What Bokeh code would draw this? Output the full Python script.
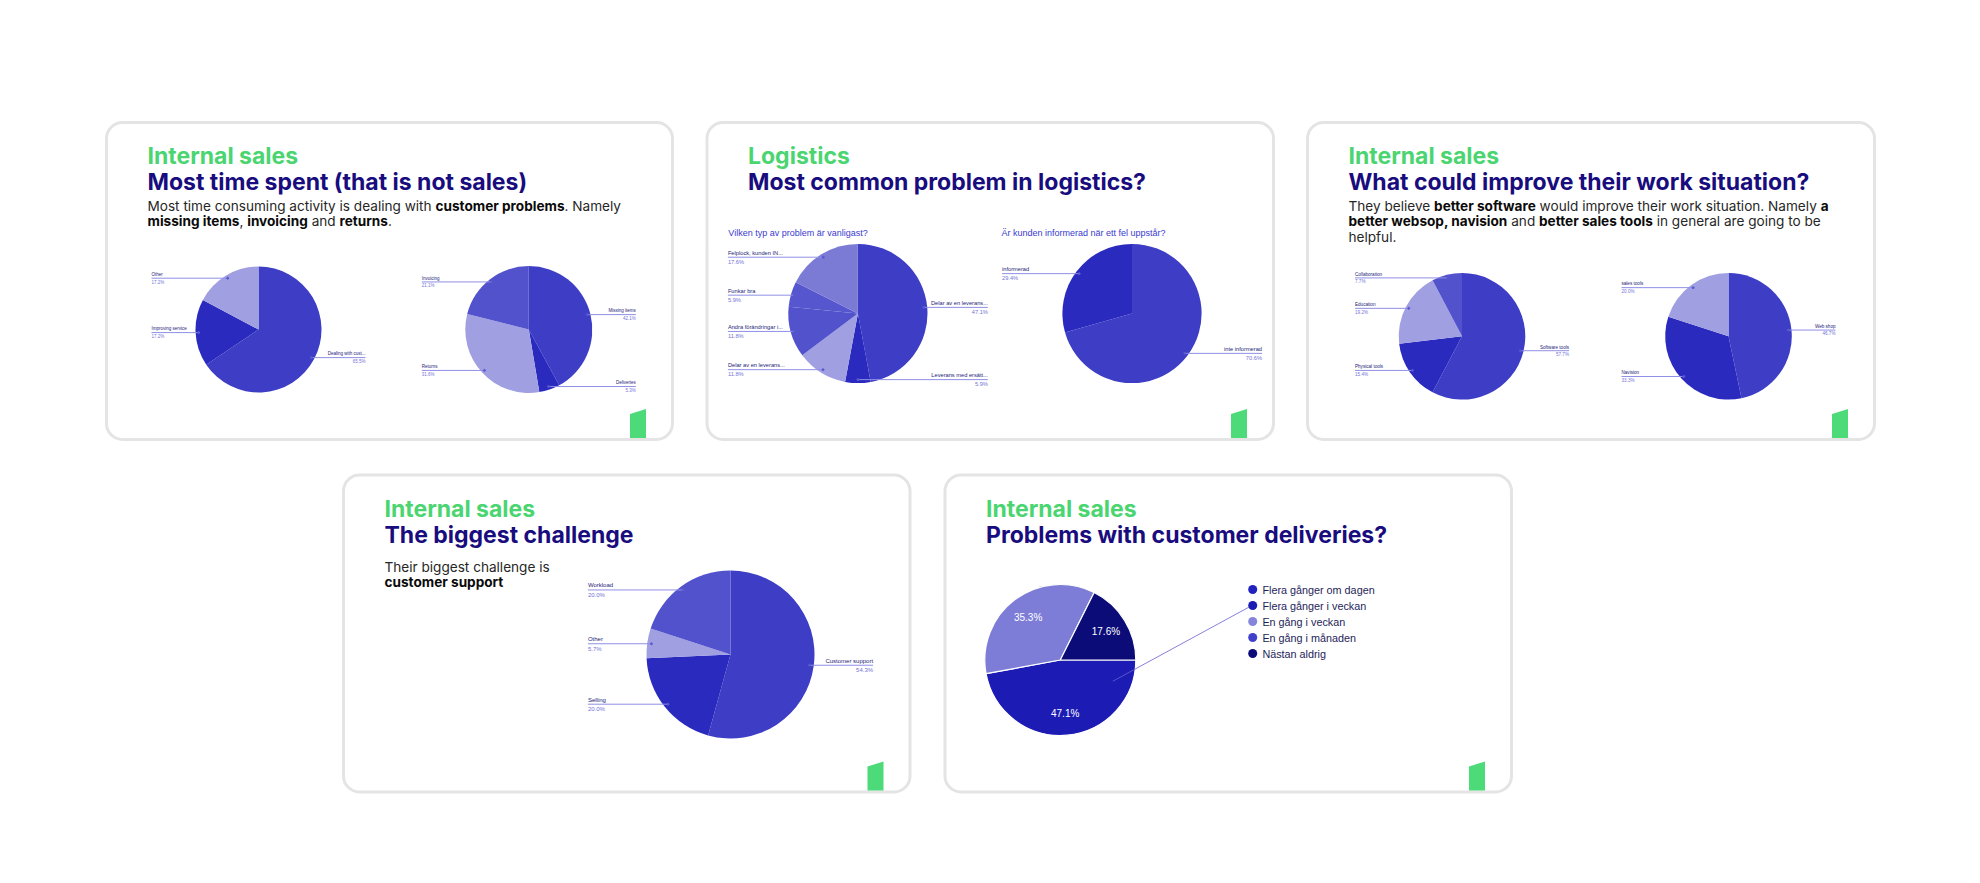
import os
import glob
import subprocess
import numpy as np
from bokeh.plotting import figure
from bokeh.models import Range1d, BoxAnnotation, ColumnDataSource
from bokeh.core.properties import value
from bokeh.embed import file_html
from bokeh.resources import INLINE

W, H = 1980, 883

# ------------------------------------------------------------------ data
c1a_labels = ["Dealing with cust...", "Improving service", "Other"]
c1a_values = [65.5, 17.2, 17.2]
c1b_labels = ["Missing items", "Deliveries", "Returns", "Invoicing"]
c1b_values = [42.1, 5.3, 31.6, 21.1]
c2a_labels = ["Delar av en leverans...", "Leverans med ersätt...", "Delar av en leverans...",
              "Andra förändringar i...", "Funkar bra", "Felplock, kunden IN..."]
c2a_values = [47.1, 5.9, 11.8, 11.8, 5.9, 17.6]
c2b_labels = ["inte informerad", "informerad"]
c2b_values = [70.6, 29.4]
c3a_labels = ["Software tools", "Physical tools", "Education", "Collaboration"]
c3a_values = [57.7, 15.4, 19.2, 7.7]
c3b_labels = ["Web shop", "Navision", "sales tools"]
c3b_values = [46.7, 33.3, 20.0]
c4_labels = ["Customer support", "Selling", "Other", "Workload"]
c4_values = [54.3, 20.0, 5.7, 20.0]
c5_labels = ["Flera gånger i veckan", "En gång i veckan", "Nästan aldrig"]
c5_values = [47.1, 35.3, 17.6]
c5_legend = ["Flera gånger om dagen", "Flera gånger i veckan", "En gång i veckan",
             "En gång i månaden", "Nästan aldrig"]

headers = ["Internal sales", "Logistics", "Internal sales", "Internal sales", "Internal sales"]
titles = ["Most time spent (that is not sales)", "Most common problem in logistics?",
          "What could improve their work situation?", "The biggest challenge",
          "Problems with customer deliveries?"]
body1 = [[("Most time consuming activity is dealing with ", False), ("customer problems", True), (". Namely", False)],
         [("missing items", True), (", ", False), ("invoicing", True), (" and ", False), ("returns", True), (".", False)]]
body3 = [[("They believe ", False), ("better software", True), (" would improve their work situation. Namely ", False), ("a", True)],
         [("better websop, navision", True), (" and ", False), ("better sales tools", True), (" in general are going to be", False)],
         [("helpful.", False)]]
body4 = [[("Their biggest challenge is", False)], [("customer support", True)]]
sub2 = ["Vilken typ av problem är vanligast?", "Är kunden informerad när ett fel uppstår?"]

# ------------------------------------------------------------------ style
BLUE, DARK, LIGHT, MID, LAV = "#3d3dc6", "#2a2abf", "#a09fe2", "#5252cc", "#7b7bd6"
GREEN, NAVY = "#4bd571", "#180c7e"
LBL_NAME, LBL_PCT, LBL_LINE = "#1c1c78", "#7373d9", "#8f8fe6"
BASE_SHIFT_BIG, BASE_SHIFT_BODY = 8.5, 7.5

# ------------------------------------------------------------------ text measuring
def _font_file(family, bold):
    try:
        r = subprocess.run(["fc-match", "-f", "%{file}", family + (":bold" if bold else ":regular")],
                           capture_output=True, text=True, timeout=10)
        f = r.stdout.strip()
        if f and os.path.exists(f):
            return f
    except Exception:
        pass
    key = family.replace(" ", "")
    cands = []
    for d in ["/usr/share/fonts", "/usr/local/share/fonts", os.path.expanduser("~/.fonts")]:
        cands += glob.glob(os.path.join(d, "**", f"*{key}*.*tf"), recursive=True)
    want = "Bold" if bold else "Regular"
    for c in cands:
        if want in os.path.basename(c) and "Italic" not in c:
            return c
    return cands[0] if cands else None

_fc = {}
def text_width(s, size, bold, family="Inter"):
    k = (family, bold)
    if k not in _fc:
        font = None
        try:
            from PIL import ImageFont
            path = _font_file(family, bold)
            if path:
                font = ImageFont.truetype(path, 100)
                try:
                    names = font.get_variation_names()
                    want = b"Bold" if bold else b"Regular"
                    for nm in names:
                        nb = nm if isinstance(nm, bytes) else nm.encode()
                        if nb == want:
                            font.set_variation_by_name(nm)
                            break
                except Exception:
                    pass
        except Exception:
            font = None
        _fc[k] = font
    f = _fc[k]
    if f is not None:
        try:
            return f.getlength(s) * size / 100.0
        except Exception:
            pass
    return len(s) * size * (0.56 if bold else 0.5)

def Y(y):
    return H - y

# ------------------------------------------------------------------ figure
p = figure(width=W, height=H, x_range=Range1d(0, W), y_range=Range1d(0, H),
           output_backend="svg", toolbar_location=None, min_border=0,
           x_axis_location=None, y_axis_location=None)
p.xgrid.visible = False
p.ygrid.visible = False
p.outline_line_color = None
p.background_fill_color = "white"
p.border_fill_color = "white"

cards = [(106, 122, 672, 439), (706.5, 122, 1273, 439), (1307, 122, 1874, 439),
         (343, 474.5, 909.5, 791.5), (944.5, 474.5, 1511, 791.5)]

for (l, t, r, b) in cards:
    p.add_layout(BoxAnnotation(left=l, right=r, top=Y(t), bottom=Y(b), fill_color="white", fill_alpha=1,
                               line_color="#e4e4e4", line_alpha=1, line_width=3, border_radius=16,
                               level="underlay"))

# green logo in every card
lx, ly = [], []
for (l, t, r, b) in cards:
    lx.append([r - 42.5, r - 42.5, r - 26.5, r - 26.5])
    ly.append([Y(b - 1.5), Y(b - 25.5), Y(b - 30.5), Y(b - 1.5)])
p.patches(xs=lx, ys=ly, fill_color="#4cdb78", line_color=None)

# headers & titles
hx = [c[0] + 41 for c in cards]
p.text(x=hx, y=[Y(c[1] + 42 - BASE_SHIFT_BIG) for c in cards], text=headers, text_font=value("Inter"),
       text_font_style="bold", text_font_size=value("23px"), text_color=GREEN, text_baseline="alphabetic")
p.text(x=hx, y=[Y(c[1] + 68 - BASE_SHIFT_BIG) for c in cards], text=titles, text_font=value("Inter"),
       text_font_style="bold", text_font_size=value("23px"), text_color=NAVY, text_baseline="alphabetic")

# body texts with bold runs
BODY_FS = 13.6
runs = {False: dict(x=[], y=[], text=[]), True: dict(x=[], y=[], text=[])}
def add_body(card, lines, first, step):
    l, t = card[0], card[1]
    for i, line in enumerate(lines):
        x = l + 41
        y = t + first + step * i - BASE_SHIFT_BODY
        for s, bold in line:
            lead = s[:len(s) - len(s.lstrip(" "))]
            core = s.lstrip(" ")
            x += text_width(lead, BODY_FS, bold) if lead else 0.0
            if core.strip():
                runs[bold]["x"].append(x)
                runs[bold]["y"].append(Y(y))
                runs[bold]["text"].append(core)
            x += text_width(core, BODY_FS, bold)

add_body(cards[0], body1, 90.5, 15.6)
add_body(cards[2], body3, 90.5, 15.6)
add_body(cards[3], body4, 99, 15.4)
p.text(x="x", y="y", text="text", source=ColumnDataSource(runs[False]), text_font=value("Inter"),
       text_font_size=value(f"{BODY_FS}px"), text_color="#262626", text_baseline="alphabetic")
p.text(x="x", y="y", text="text", source=ColumnDataSource(runs[True]), text_font=value("Inter"),
       text_font_style="bold", text_font_size=value(f"{BODY_FS}px"), text_color="#0a0a0a",
       text_baseline="alphabetic")

# logistics sub titles
p.text(x=[727.8, 1001], y=[Y(232.3)] * 2, text=sub2, text_font=value("Liberation Sans"),
       text_font_size=value("9px"), text_color="#3a3ad0", text_baseline="middle")

# ------------------------------------------------------------------ pies
def draw_pie(cx, cy, r, labels, values, colors, label_dx=0, fs=5.0, rot=0.0, outline=None, show_labels=True):
    v = np.asarray(values, dtype=float)
    frac = v / v.sum()
    cum = np.concatenate([[0.0], np.cumsum(frac)])
    a0 = 2 * np.pi * cum[:-1] + rot
    a1 = 2 * np.pi * cum[1:] + rot
    n = len(v)
    src = ColumnDataSource(dict(x=[cx] * n, y=[Y(cy)] * n, s=np.pi / 2 - a0, e=np.pi / 2 - a1, c=colors))
    p.wedge(x="x", y="y", radius=r, start_angle="s", end_angle="e", direction="clock",
            fill_color="c", line_color=outline, line_width=1.2 if outline else 0, source=src)
    mid = (a0 + a1) / 2
    if not show_labels:
        return mid
    dx, dy = np.sin(mid), -np.cos(mid)
    ax, ay = cx + 0.95 * r * dx, cy + 0.95 * r * dy
    xs, ys = [], []
    L = dict(x=[], y=[], text=[], align=[])
    P = dict(x=[], y=[], text=[], align=[])
    for i in range(n):
        right = dx[i] > -0.01
        ox = cx + label_dx if right else cx - label_dx
        xs.append([ox, ax[i]])
        ys.append([Y(ay[i]), Y(ay[i])])
        al = "right" if right else "left"
        L["x"].append(ox); L["y"].append(Y(ay[i] - 0.25 * fs)); L["text"].append(labels[i]); L["align"].append(al)
        P["x"].append(ox); P["y"].append(Y(ay[i] + 0.3 * fs)); P["text"].append(f"{v[i]:.1f}%"); P["align"].append(al)
    p.multi_line(xs=xs, ys=ys, line_color=LBL_LINE, line_width=1)
    p.scatter(x=list(ax), y=[Y(a) for a in ay], size=2, color="#5a5ad0")
    p.text(x="x", y="y", text="text", text_align="align", source=ColumnDataSource(L),
           text_font=value("Liberation Sans"), text_font_size=value(f"{fs}px"), text_color=LBL_NAME,
           text_baseline="bottom")
    p.text(x="x", y="y", text="text", text_align="align", source=ColumnDataSource(P),
           text_font=value("Liberation Sans"), text_font_size=value(f"{fs}px"), text_color=LBL_PCT,
           text_baseline="top")
    return mid

draw_pie(258, 329, 63, c1a_labels, c1a_values, [BLUE, DARK, LIGHT], 107, 4.5)
draw_pie(528.3, 329, 63.5, c1b_labels, c1b_values, [BLUE, DARK, LIGHT, MID], 107, 4.5)
draw_pie(857.4, 313, 69.6, c2a_labels, c2a_values, [BLUE, DARK, LIGHT, MID, "#5656ce", LAV], 130, 5.7)
draw_pie(1131.5, 313, 69.6, c2b_labels, c2b_values, [BLUE, DARK], 130, 5.7)
draw_pie(1461.5, 335.8, 63.3, c3a_labels, c3a_values, [BLUE, DARK, LIGHT, MID], 107, 4.6)
draw_pie(1728, 335.8, 63.3, c3b_labels, c3b_values, [BLUE, DARK, LIGHT], 107, 4.6)
draw_pie(730, 654, 84, c4_labels, c4_values, [BLUE, DARK, LIGHT, MID], 142.6, 6.0)

# card 5: pie with inner percentages + legend
c5x, c5y, c5r = 1059.8, 659.5, 75.5
mid5 = draw_pie(c5x, c5y, c5r, c5_labels, c5_values, ["#1c1cb4", "#7d7dd8", "#0c0c78"],
                rot=np.pi / 2, outline="white", show_labels=False)
p.text(x=list(c5x + 0.71 * c5r * np.sin(mid5)), y=[Y(c5y - 0.71 * c5r * np.cos(m)) for m in mid5],
       text=[f"{v:.1f}%" for v in c5_values], text_font=value("Liberation Sans"),
       text_font_size=value("10px"), text_color="white", text_align="center", text_baseline="middle")

leg_x, leg_y0, leg_dy = 1252.2, 589, 16
leg_y = [leg_y0 + leg_dy * i for i in range(len(c5_legend))]
p.scatter(x=[leg_x] * len(c5_legend), y=[Y(v) for v in leg_y], size=9,
          color=["#2222c0", "#1c1cb4", "#8585dc", "#4040cc", "#0c0c78"], line_color=None)
p.text(x=[leg_x + 9.7] * len(c5_legend), y=[Y(v) for v in leg_y], text=c5_legend,
       text_font=value("Liberation Sans"), text_font_size=value("10.8px"), text_color="#1e1e5a",
       text_baseline="middle")
# leader from the largest slice to its legend entry
ang = np.pi / 2 + np.deg2rad(22)
k = c5_legend.index(c5_labels[0])
p.line(x=[c5x + 0.75 * c5r * np.sin(ang), leg_x - 3.5], y=[Y(c5y - 0.75 * c5r * np.cos(ang)), Y(leg_y[k] + 1.5)],
       line_color="#6a5fd0", line_width=0.8)

open("out.html", "w").write(file_html(p, INLINE))
